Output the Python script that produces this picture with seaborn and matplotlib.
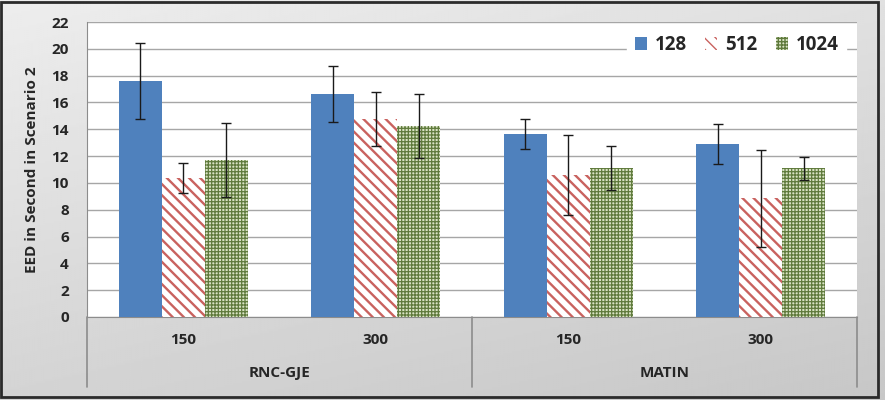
import numpy as np
import pandas as pd
import matplotlib
matplotlib.use("Agg")
import matplotlib.pyplot as plt
import seaborn as sns
from matplotlib.patches import Rectangle, Patch
from matplotlib.lines import Line2D
import matplotlib.transforms as mtransforms

# values
groups = ["RNC-GJE", "RNC-GJE", "MATIN", "MATIN"]
nodes = ["150", "300", "150", "300"]
sizes = ["128", "512", "1024"]
eed_128 = [17.6, 16.65, 13.65, 12.9]
eed_512 = [10.35, 14.75, 10.6, 8.85]
eed_1024 = [11.7, 14.25, 11.1, 11.1]
err_128 = [2.85, 2.1, 1.15, 1.5]
err_512 = [1.1, 2.0, 3.0, 3.6]
err_1024 = [2.75, 2.4, 1.65, 0.85]

keys = [g + " " + n for g, n in zip(groups, nodes)]
df = pd.DataFrame({
    "key": keys * 3,
    "size": sum([[s] * 4 for s in sizes], []),
    "eed": eed_128 + eed_512 + eed_1024,
})
errs = [err_128, err_512, err_1024]

sns.set_style("white")
plt.rcParams["font.family"] = ["Open Sans", "DejaVu Sans"]
plt.rcParams["font.weight"] = "bold"

fig = plt.figure(figsize=(8.85, 4), dpi=100)

# grey gradient chart background
bg = fig.add_axes([0, 0, 1, 1], zorder=-5)
yy, xx = np.mgrid[0:1:200j, 0:1:400j]
grad = 0.93 - 0.10 * yy - 0.05 * xx
bg.imshow(grad, cmap="gray", vmin=0, vmax=1, aspect="auto", extent=[0, 1, 0, 1])
bg.set_axis_off()
bg.add_patch(Rectangle((0.001, 0.008), 0.991, 0.988, transform=bg.transAxes,
                       fill=False, edgecolor="#2b2b2b", lw=2))

ax = fig.add_axes([87 / 885, 83 / 400, 770 / 885, 295 / 400])
ax.set_facecolor("white")

colors = {"128": "#4f81bd", "512": "white", "1024": "#d9e3c4"}
sns.barplot(data=df, x="key", y="eed", hue="size", hue_order=sizes, order=keys,
            palette=colors, width=0.67, saturation=1, legend=False, ax=ax,
            zorder=3)

hatch_col = {"128": "#4f81bd", "512": "#c9625f", "1024": "#5f7a3c"}
hatches = {"128": "", "512": "\\" * 3, "1024": "+" * 5}
hatch_lw = {"128": 1.0, "512": 1.7, "1024": 0.9}
bar_conts = list(ax.containers)[:3]
for i, cont in enumerate(bar_conts):
    s = sizes[i]
    for j, bar in enumerate(cont):
        bar.set_edgecolor(hatch_col[s])
        bar.set_hatch(hatches[s])
        bar.set_linewidth(0)
        bar.set_hatch_linewidth(hatch_lw[s])
        cx = bar.get_x() + bar.get_width() / 2
        ax.errorbar(cx, bar.get_height(), yerr=errs[i][j], fmt="none",
                    ecolor="#1a1a1a", elinewidth=1, capsize=3.5, capthick=1,
                    zorder=5)

ax.set_xlim(-0.5, 3.5)
ax.set_ylim(0, 22)
ax.set_yticks(range(0, 23, 2))
ax.yaxis.grid(True, color="#a6a6a6", lw=1)
ax.set_axisbelow(True)
for sp in ["top", "right"]:
    ax.spines[sp].set_visible(False)
ax.spines["left"].set_color("#8c8c8c")
ax.spines["bottom"].set_color("#8c8c8c")
ax.tick_params(axis="y", length=6, color="#8c8c8c", labelsize=11, pad=7)
ax.tick_params(axis="x", length=0)
ax.set_xticks(range(4))
ax.set_xticklabels([])
ax.set_xlabel("")
ax.set_ylabel("EED in Second in Scenario 2", fontsize=11, fontweight="bold",
              labelpad=9)
for t in ax.get_yticklabels():
    t.set_fontweight("bold")

# two level category axis
trans = mtransforms.blended_transform_factory(ax.transData, ax.transAxes)
for k, n in enumerate(nodes):
    ax.text(k, -0.078, n, transform=trans, ha="center", va="center",
            fontsize=11, fontweight="bold")
for k, g in enumerate(["RNC-GJE", "MATIN"]):
    ax.text(2 * k + 0.5, -0.19, g, transform=trans, ha="center", va="center",
            fontsize=11, fontweight="bold")
for xpos in [-0.5, 1.5, 3.5]:
    ax.add_line(Line2D([xpos, xpos], [0, -0.237], transform=trans,
                       color="#8c8c8c", lw=1.2, clip_on=False))

handles = [Patch(facecolor=colors[s], edgecolor=hatch_col[s], hatch=hatches[s],
                 lw=0) for s in sizes]
leg = ax.legend(handles, sizes, loc="upper right", ncol=3, frameon=True,
                bbox_to_anchor=(0.993, 1.0), fontsize=13.5, handlelength=0.65,
                handleheight=0.65, handletextpad=0.4, columnspacing=1.0,
                borderaxespad=0.3)
leg.get_frame().set_facecolor("white")
leg.get_frame().set_edgecolor("white")
leg.get_frame().set_alpha(1)
for t in leg.get_texts():
    t.set_fontweight("bold")

fig.savefig("out.png", dpi=100)
